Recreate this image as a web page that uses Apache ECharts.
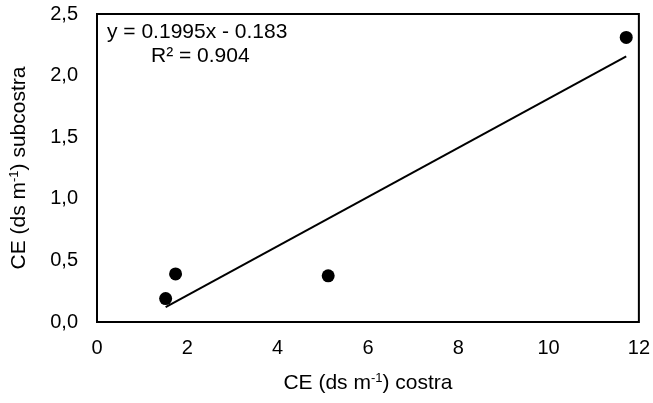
<!DOCTYPE html>
<html>
<head>
<meta charset="utf-8">
<script src="https://cdn.jsdelivr.net/npm/echarts@6/dist/echarts.min.js"></script>
<style>
  html, body { margin: 0; padding: 0; background: #fff; }
  #chart { width: 653px; height: 403px; }
</style>
</head>
<body>
<div id="chart"></div>
<script>
// datos
const costra = [1.52, 1.74, 5.12, 11.72];
const subcostra = [0.19, 0.39, 0.375, 2.31];
const slope = 0.1995;
const intercept = -0.183;
const eqText = 'y = 0.1995x - 0.183';
const r2Text = 'R² = 0.904';

const points = costra.map((x, i) => [x, subcostra[i]]);
const xMin = Math.min(...costra), xMax = Math.max(...costra);
const trend = [[xMin, slope * xMin + intercept], [xMax, slope * xMax + intercept]];

const font = 'Liberation Sans, Arial, sans-serif';
const sup = { fontSize: 13, fontFamily: font, color: '#000', padding: [0, 0, 10, 0] };

var myChart = echarts.init(document.getElementById('chart'));
myChart.setOption({
    animation: false,
    grid: { left: 97, right: 12, top: 14, bottom: 81, show: true, borderColor: '#000', borderWidth: 2, backgroundColor: 'transparent' },
    xAxis: {
        type: 'value',
        min: 0, max: 12, interval: 2,
        name: 'CE (ds m{s|-1}) costra',
        nameLocation: 'middle',
        nameGap: 50,
        nameTextStyle: { fontSize: 21, fontFamily: font, color: '#000', rich: { s: sup } },
        axisLine: { show: false },
        axisTick: { show: false },
        splitLine: { show: false },
        axisLabel: { fontSize: 20, fontFamily: font, color: '#000', margin: 16 }
    },
    yAxis: {
        type: 'value',
        min: 0, max: 2.5, interval: 0.5,
        name: 'CE (ds m{s|-1}) subcostra',
        nameLocation: 'middle',
        nameGap: 66,
        nameTextStyle: { fontSize: 21, fontFamily: font, color: '#000', rich: { s: sup } },
        axisLine: { show: false },
        axisTick: { show: false },
        splitLine: { show: false },
        axisLabel: {
            fontSize: 20, fontFamily: font, color: '#000', margin: 19,
            formatter: v => v.toFixed(1).replace('.', ',')
        }
    },
    graphic: [
        { type: 'text', left: 107, top: 22, style: { text: eqText, font: '21px ' + font, fill: '#000' } },
        { type: 'text', left: 151, top: 46, style: { text: r2Text, font: '21px ' + font, fill: '#000' } }
    ],
    series: [
        {
            type: 'scatter',
            data: points,
            symbolSize: 13,
            itemStyle: { color: '#000', opacity: 1 },
            z: 3
        },
        {
            type: 'line',
            data: trend,
            symbol: 'none',
            lineStyle: { color: '#000', width: 2 },
            z: 2
        }
    ]
});
</script>
</body>
</html>
